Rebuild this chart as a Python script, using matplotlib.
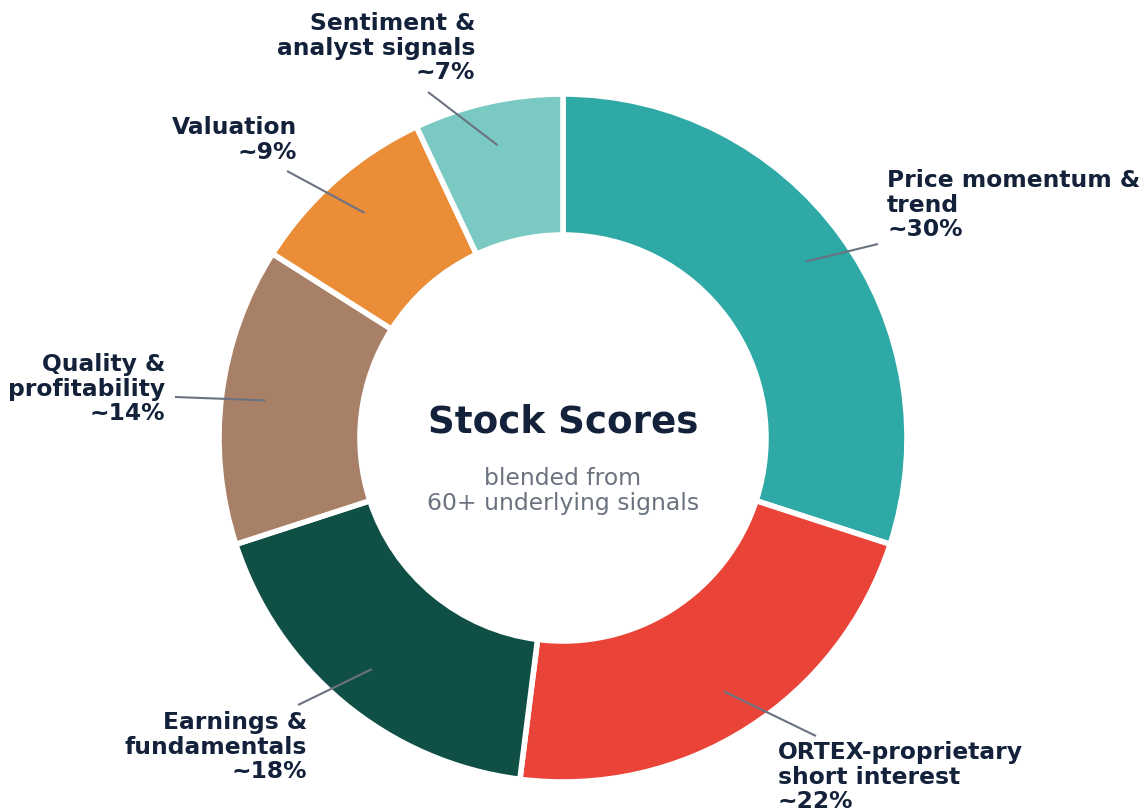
import numpy as np
import matplotlib
matplotlib.use("Agg")
import matplotlib.pyplot as plt

categories = ["Price momentum &\ntrend", "ORTEX-proprietary\nshort interest", "Earnings &\nfundamentals",
              "Quality &\nprofitability", "Valuation", "Sentiment &\nanalyst signals"]
values = [30, 22, 18, 14, 9, 7]
colors = ["#2EA9A5", "#EA4337", "#0F4F46", "#A88067", "#EB8C37", "#7BC9C3"]

W, H = 1147, 809
fig = plt.figure(figsize=(W / 100, H / 100), dpi=100)
ax = fig.add_axes([0, 0, 1, 1])

cx, cy = 563, H - 438
R, ring = 344, 141
wedges, _ = ax.pie(values, colors=colors, startangle=90, counterclock=False,
                   center=(cx, cy), radius=R,
                   wedgeprops=dict(width=ring, edgecolor="white", linewidth=4))
ax.set_xlim(0, W)
ax.set_ylim(0, H)
ax.set_aspect("equal")
ax.axis("off")

label_color = "#13223A"
line_color = "#6B7280"

# layout: (line outer end x, y(from top)), (text x, y center from top), ha
layout = [
    ((878, 244), (887, 205), "left"),
    ((816, 736), (778, 777), "left"),
    ((298, 705), (307, 747), "right"),
    ((175, 397), (165, 389), "right"),
    ((287, 171), (297, 140), "right"),
    ((428, 92), (475, 48), "right"),
]

for w, cat, val, (lend, tpos, ha) in zip(wedges, categories, values, layout):
    mid = np.deg2rad((w.theta1 + w.theta2) / 2)
    r_in = 300
    px, py = cx + r_in * np.cos(mid), cy + r_in * np.sin(mid)
    ax.plot([px, lend[0]], [py, H - lend[1]], color=line_color, lw=1.5, solid_capstyle="butt")
    ax.text(tpos[0], H - tpos[1], f"{cat}\n~{val}%", ha=ha, va="center", multialignment=ha,
            fontsize=16.8, fontweight="bold", color=label_color, linespacing=1.07)

ax.text(cx, H - 422, "Stock Scores", ha="center", va="center", fontsize=26.8,
        fontweight="bold", color=label_color)
ax.text(cx, H - 491, "blended from\n60+ underlying signals", ha="center", va="center",
        fontsize=16.9, color="#6B7280", linespacing=1.13)

fig.savefig("out.png", dpi=100, facecolor="white")
